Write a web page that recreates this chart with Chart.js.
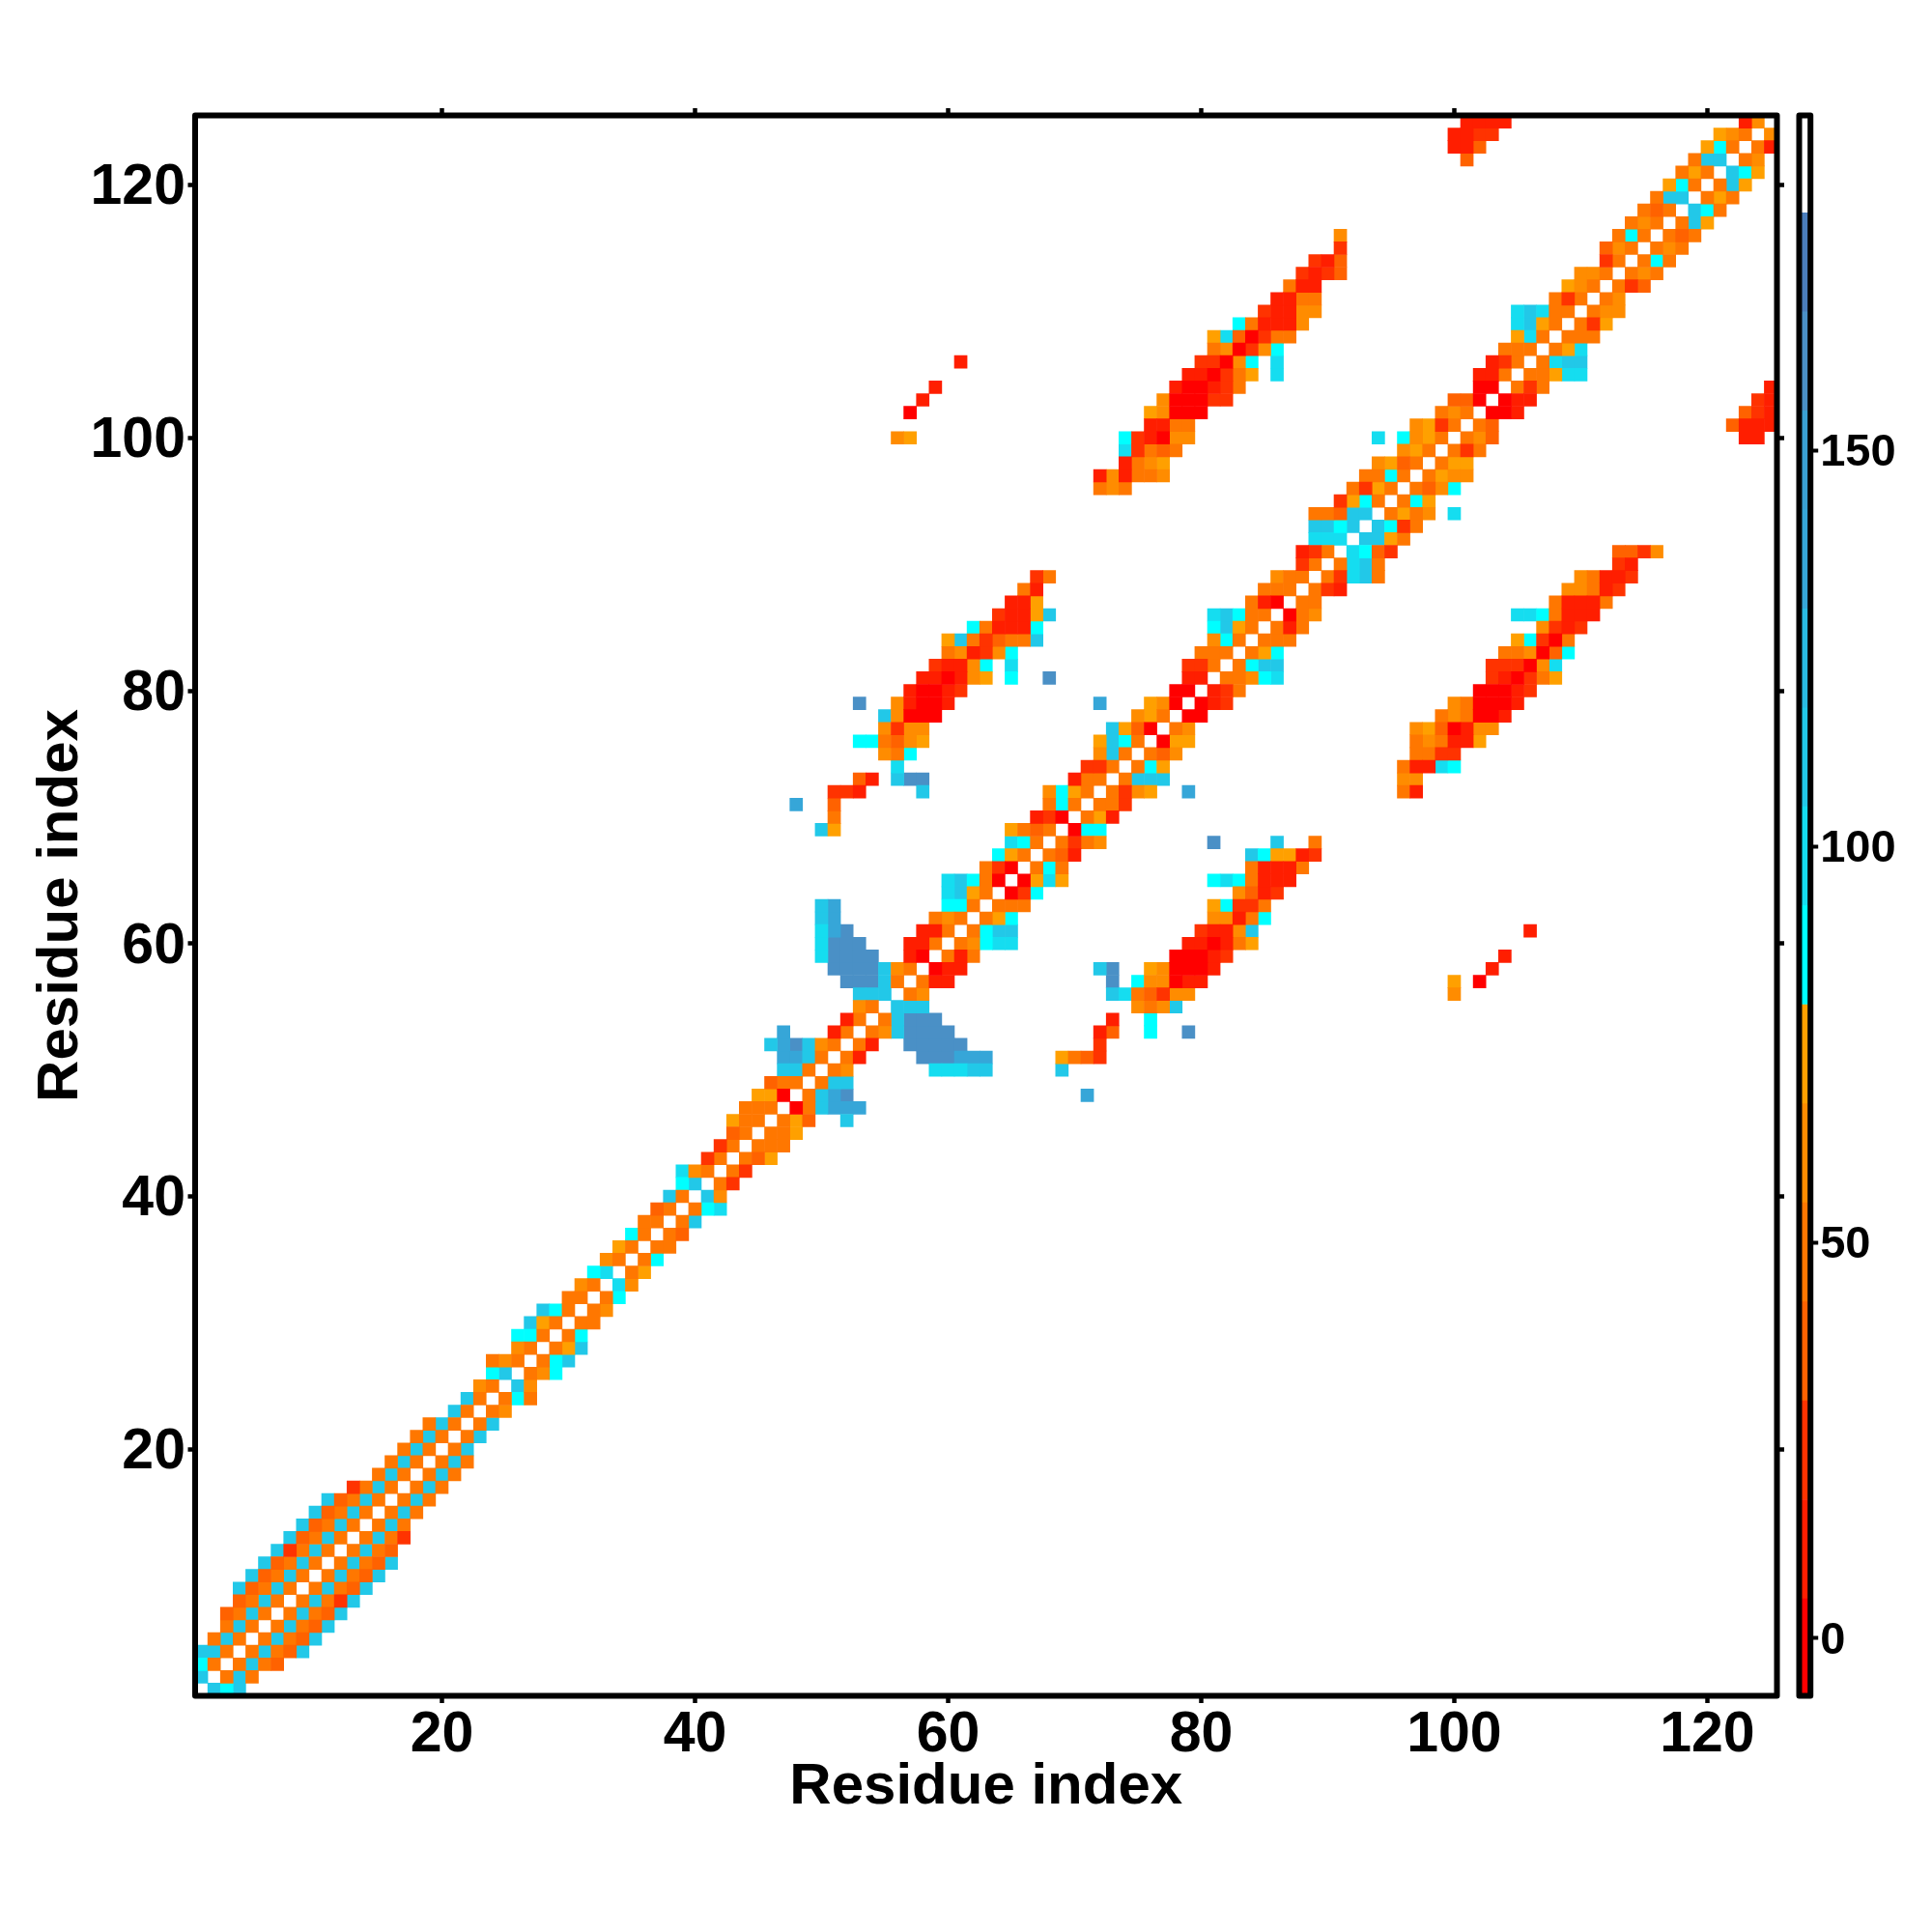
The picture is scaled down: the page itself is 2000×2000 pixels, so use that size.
<!DOCTYPE html>
<html>
<head>
<meta charset="utf-8">
<title>Residue contact map</title>
<script src="https://cdn.jsdelivr.net/npm/chart.js@4"></script>
<style>
  html, body { margin: 0; padding: 0; background: #fff; }
  #mapWrap { position: absolute; left: 0; top: 0; width: 2000px; height: 2000px; }
  #barWrap { position: absolute; left: 1840px; top: 0; width: 160px; height: 2000px; }
</style>
</head>
<body>
<div id="mapWrap"><canvas id="contactMap" width="2000" height="2000"></canvas></div>
<div id="barWrap"><canvas id="colorBar" width="160" height="2000"></canvas></div>
<script>
// ─── DATA ───
const residueTicks = [20, 40, 60, 80, 100, 120];
const colorTicks = [0, 50, 100, 150];
const axisTitle = 'Residue index';

const levelCodes = 'abcdefghijklmnop';
const levelBreaks = [-7.5, 5, 17.5, 30, 42.5, 55, 67.5, 80, 92.5, 105, 117.5, 130, 142.5, 155, 167.5, 180, 192.5];
const levelColors = ['#FF0000', '#FF1E00', '#FF3300', '#FF6200', '#FF7700', '#FF8C00', '#FFA000', '#00FFFF',
  '#15DDF0', '#22C8E8', '#2ABBE2', '#36A6D8', '#3AA0D2', '#4A90C6', '#4A7DBB', '#FFFFFF'];

// [residue y, level codes]: the run ends right next to the diagonal, '.' is an empty cell
const bandRows = [
  [2, 'j'], [3, 'he'], [4, 'jje'], [5, 'eje'], [6, 'eje'], [7, 'deje'], [8, 'deje'], [9, 'jdeje'], [10, 'jdeje'],
  [11, 'jdeje'], [12, 'jceje'], [13, 'jdeje'], [14, 'jdeje'], [15, 'jdeje'], [16, 'jdeje'], [17, 'ceje'], [18, 'eje'],
  [19, 'eje'], [20, 'eje'], [21, 'eje'], [22, 'eje'], [23, 'je'], [24, 'je'], [25, 'fe'], [26, 'hj'], [27, 'efe'],
  [28, 'fe'], [29, 'hhe'], [30, 'jge'], [31, 'jhe'], [32, 'ee'], [33, 'fe'], [34, 'hi'], [35, 'fe'], [36, 'ge'],
  [37, 'he'], [38, 'ee'], [39, 'de'], [40, 'je'], [41, 'hj'], [42, 'ife'], [43, 'ce'], [44, 'ce'], [45, 'de'],
  [46, 'gee'], [47, 'eee'], [48, 'gga'], [49, 'dee'], [50, 'jje'], [51, 'llje'], [52, 'jlnjfe'], [53, 'l...be'],
  [54, 'be'], [55, 'fe'], [56, 'jjj'], [57, 'nnnje'], [58, 'nnnnjfe'], [59, 'innnn..ba'], [60, 'innn...bbe'],
  [61, 'iln.....bbe'], [62, 'jl.......efe'], [63, 'jl........hhe'], [64, 'ijge'], [65, 'ijhea'], [66, 'eca'],
  [67, 'hge'], [68, 'ihe'], [69, 'gede'], [70, 'bca'], [71, 'ehe'], [72, 'fhge'], [73, 'bee'], [74, 'cce'],
  [75, 'fje'], [76, 'gjhe'], [77, 'jgda'], [78, 'fge'], [79, 'gfa'], [80, 'aa'], [81, 'bb'], [82, 'cce'],
  [83, 'eee'], [84, 'fhe'], [85, 'hjge'], [86, 'ijhee'], [87, 'eba'], [88, 'eee'], [89, 'fee'], [90, 'ce'],
  [91, 'bce'], [92, 'iii'], [93, 'jjhj'], [94, 'eedjj'], [95, 'cghe'], [96, 'ecge'], [97, 'eehe'], [98, 'fgde'],
  [99, 'fge'], [100, 'i.hfge'], [101, 'fgce'], [102, 'efe'], [103, 'dda'], [104, 'aa'], [105, 'bbe'], [106, 'bce'],
  [107, 'eee'], [108, 'gie'], [109, 'ijge'], [110, 'ijiee'], [111, 'ece'], [112, 'gfe'], [113, 'ffe'], [114, 'ce'],
  [115, 'dfe'], [116, 'ehe'], [117, 'efe'], [118, 'ede'], [119, 'ejj'], [120, 'ghe'], [121, 'ege'], [122, 'ejj'],
  [123, 'ghe'], [124, 'gfe'], [125, 'bf']
];

// [residue y, first residue x, level codes]: contacts away from the diagonal
const contactRows = [
  [69, 50, 'jg'], [70, 51, 'e'], [71, 48, 'l'], [71, 51, 'd'], [72, 51, 'ccb'], [72, 58, 'j'], [73, 53, 'db.jnn'],
  [74, 56, 'i'], [75, 55, 'feh'], [76, 53, 'hhedfg'], [77, 55, 'fcff'], [78, 55, 'jfaaa'], [79, 53, 'n'],
  [79, 56, 'fbaab'], [79, 72, 'l'], [80, 57, 'baabc'], [81, 58, 'bbabfg.h..n'], [82, 59, 'cbbfh.i'],
  [83, 60, 'efbcfh'], [84, 60, 'gjecdeej'], [85, 62, 'hebbbh'], [86, 64, 'cbbgj'], [87, 65, 'bbg'], [88, 66, 'eb'],
  [89, 67, 'ce'], [96, 72, 'efe'], [97, 72, 'bfbeef'], [98, 74, 'befg'], [99, 74, 'icede'], [100, 56, 'fg'],
  [100, 74, 'hcbaff'], [101, 76, 'bbee'], [102, 57, 'a'], [102, 76, 'gfaaa'], [103, 58, 'b'], [103, 77, 'faaacc'],
  [104, 59, 'b'], [104, 78, 'baabce'], [105, 79, 'bbaceg.i'], [106, 61, 'b'], [106, 80, 'ccafh.i'],
  [107, 81, 'efacfh'], [108, 81, 'gidacee'], [109, 83, 'hebbbf'], [110, 85, 'cbbff'], [111, 86, 'bbee'],
  [112, 87, 'ebb'], [113, 88, 'cbcd'], [114, 89, 'cbd'], [115, 91, 'c'], [116, 91, 'f'],
  [122, 101, 'd'], [123, 100, 'bbd'], [124, 100, 'bbcc'], [125, 101, 'bbbb']
];

// ─── CELLS ───
const runs = bandRows.map(([y, codes]) => [y, y - codes.length, codes]).concat(contactRows);
const cellsByLevel = levelCodes.split('').map(() => []);

runs.forEach(([y, start, codes]) => {
  codes.split('').forEach((code, i) => {
    if (code === '.') return;
    const level = levelCodes.indexOf(code);
    const x = start + i;
    // the map is symmetric, so each cell goes in twice
    cellsByLevel[level].push({ x, y }, { x: y, y: x });
  });
});

// ─── SHARED ───
const fontFamily = '"Liberation Sans", Arial, sans-serif';
const CELL = 13.1;

const framePlugin = {
  id: 'frame',
  afterDatasetsDraw(chart) {
    const { left, top, width, height } = chart.chartArea;
    const ctx = chart.ctx;
    ctx.save();
    ctx.strokeStyle = '#000';
    ctx.lineWidth = 6;
    ctx.lineJoin = 'round';
    ctx.strokeRect(left, top, width, height);
    ctx.restore();
  }
};

function fixedTicks(values) {
  return scale => { scale.ticks = values.map(value => ({ value })); };
}

function residueAxis(position, size, showLabels) {
  const horizontal = position === 'top' || position === 'bottom';
  const axis = {
    type: 'linear',
    position,
    axis: horizontal ? 'x' : 'y',
    min: 0.5,
    max: 125.5,
    afterBuildTicks: fixedTicks(residueTicks),
    afterFit: scale => {
      if (horizontal) scale.height = size;
      else scale.width = size;
    },
    grid: { drawOnChartArea: false, drawTicks: true, tickLength: 7.5, tickWidth: 4.5, tickColor: '#000' },
    border: { display: false },
    ticks: {
      display: showLabels,
      autoSkip: false,
      maxRotation: 0,
      padding: horizontal ? -2 : 2.5,
      labelOffset: horizontal ? 0 : 3.5,
      color: '#000',
      font: { family: fontFamily, weight: 'bold', size: 59 },
    },
  };
  if (showLabels) {
    axis.title = {
      display: true,
      text: axisTitle,
      color: '#000',
      font: { family: fontFamily, weight: 'bold', size: 60 },
      padding: horizontal ? { top: 0, bottom: 113.5 } : { top: 27, bottom: 0 },
    };
  }
  return axis;
}

// ─── CONTACT MAP ───
new Chart(document.getElementById('contactMap'), {
  type: 'scatter',
  data: {
    datasets: cellsByLevel.map((cells, i) => ({
      label: `${levelBreaks[i]} to ${levelBreaks[i + 1]}`,
      data: cells,
      backgroundColor: levelColors[i],
      pointBorderWidth: 0,
      pointStyle: 'rect',
      // a little overlap so same colour neighbours show no seam
      pointRadius: (CELL + 0.6) / Math.SQRT2,
      pointHoverRadius: (CELL + 0.6) / Math.SQRT2,
      clip: 0,
    }))
  },
  options: {
    responsive: false,
    animation: false,
    layout: { padding: 0 },
    plugins: { legend: { display: false }, tooltip: { enabled: false } },
    scales: {
      x: residueAxis('bottom', 244.5, true),
      y: residueAxis('left', 202, true),
      xTop: residueAxis('top', 119.5, false),
      yRight: residueAxis('right', 160.5, false),
    }
  },
  plugins: [framePlugin]
});

// ─── COLOR BAR ───
new Chart(document.getElementById('colorBar'), {
  type: 'bar',
  data: {
    labels: [''],
    datasets: levelColors.map((color, i) => ({
      data: [[levelBreaks[i], levelBreaks[i + 1]]],
      backgroundColor: color,
      borderWidth: 0,
      barPercentage: 1,
      categoryPercentage: 1,
    }))
  },
  options: {
    responsive: false,
    animation: false,
    layout: { padding: { left: 22.5, top: 119.5, bottom: 244.5, right: 0 } },
    plugins: { legend: { display: false }, tooltip: { enabled: false } },
    scales: {
      x: { display: false, stacked: true },
      y: {
        position: 'right',
        min: -7.26,
        max: 192.3,
        afterBuildTicks: fixedTicks(colorTicks),
        afterFit: scale => { scale.width = 125.8; },
        grid: { drawOnChartArea: false, drawTicks: true, tickLength: 8, tickWidth: 4, tickColor: '#000' },
        border: { display: false },
        ticks: {
          autoSkip: false,
          padding: 2,
          labelOffset: 3,
          color: '#000',
          font: { family: fontFamily, weight: 'bold', size: 47 },
        },
      }
    }
  },
  plugins: [framePlugin]
});
</script>
</body>
</html>
